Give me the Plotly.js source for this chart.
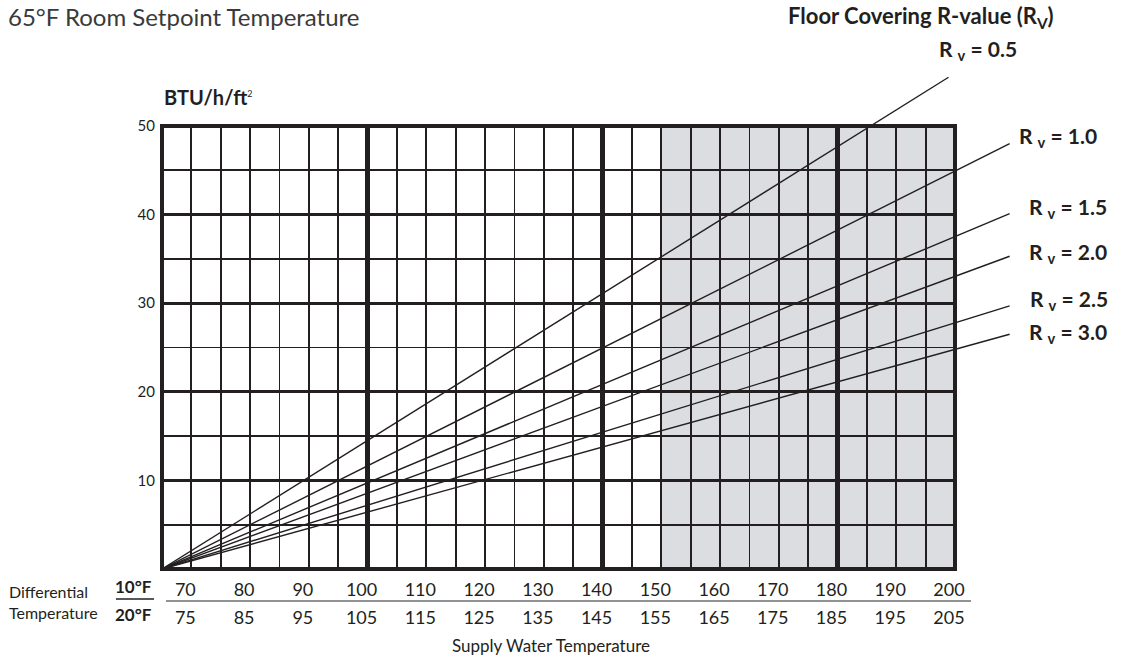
<!DOCTYPE html>
<html>
<head>
<meta charset="utf-8">
<script src="https://cdn.plot.ly/plotly-3.0.1.min.js"></script>
<style>html,body{margin:0;padding:0;background:#fff;}</style>
</head>
<body>
<div id="chart" style="width:1121px;height:657px;"></div>
<script>
// ---------------- data ----------------
const supplyTemp10 = [70, 80, 90, 100, 110, 120, 130, 140, 150, 160, 170, 180, 190, 200];
const supplyTemp20 = [75, 85, 95, 105, 115, 125, 135, 145, 155, 165, 175, 185, 195, 205];
const loadTicks = [10, 20, 30, 40, 50];
const rValues = ['0.5', '1.0', '1.5', '2.0', '2.5', '3.0'];
const lineStartX = [65, 65, 65, 65, 65, 65];
const lineStartY = [0, 0, 0, 0, 0, 0];
const lineEndX = [198.9, 209.3, 209.3, 209.3, 209.3, 209.3];
const lineEndY = [55.5, 48.0, 40.1, 35.3, 29.7, 26.5];
const xMin = 65, xMax = 200, yMin = 0, yMax = 50;
const shadeFrom = 150, shadeTo = 200;
const majorX0 = 100, majorXStep = 40, minorStep = 5;

// ---------------- layout constants (pixels) ----------------
const W = 1121, H = 657;
const PL = 162, PR = 955, PT = 126, PB = 569;
const labelPx = [[937, 50], [1017, 137], [1027, 208], [1027, 253], [1028, 300], [1027, 333]];
const INK = '#231f20';
const FONT = 'Lato, "Open Sans", sans-serif';
const px = v => v / W;
const py = v => 1 - v / H;

// extended (invisible) axes with identical scale so the lines can leave the grid
const sx = (xMax - xMin) / (PR - PL);
const sy = (yMax - yMin) / (PB - PT);
const extXMax = xMin + (W - PL) * sx;
const extYMax = yMin + PB * sy;

const traces = [];
rValues.forEach((r, i) => {
  traces.push({
    type: 'scatter', mode: 'lines',
    x: [lineStartX[i], lineEndX[i]], y: [lineStartY[i], lineEndY[i]],
    xaxis: 'x2', yaxis: 'y2',
    line: {color: INK, width: 1.4},
    name: 'Rv = ' + r, hoverinfo: 'skip', showlegend: false
  });
});
// placeholders so the grid and label axes exist
['x', 'x3', 'x4'].forEach(ax => traces.push({
  type: 'scatter', mode: 'markers', x: [null], y: [null], xaxis: ax, yaxis: 'y',
  hoverinfo: 'skip', showlegend: false
}));

const annotations = [
  {text: '<b>BTU/h/ft</b><sup><span style="font-size:9px">2</span></sup>', x: px(PL), y: py(97), xanchor: 'left', yanchor: 'middle', font: {size: 20}},
  {text: '<b>Floor Covering R-value (R<sub>V</sub>)</b>', x: px(1056), y: py(17), xanchor: 'right', yanchor: 'middle', font: {size: 22}},
  {text: 'Differential', x: px(7), y: py(591), xanchor: 'left', yanchor: 'middle', font: {size: 16}},
  {text: 'Temperature', x: px(7), y: py(612), xanchor: 'left', yanchor: 'middle', font: {size: 16}},
  {text: '<b>10°F</b>', x: px(154), y: py(586), xanchor: 'right', yanchor: 'middle', font: {size: 17}},
  {text: '<b>20°F</b>', x: px(154), y: py(614), xanchor: 'right', yanchor: 'middle', font: {size: 17}},
  {text: 'Supply Water Temperature', x: px(551), y: py(645), xanchor: 'center', yanchor: 'middle', font: {size: 17}}
];
rValues.forEach((r, i) => annotations.push({
  text: '<b>R <sub>v</sub> = ' + r + '</b>', x: px(labelPx[i][0]), y: py(labelPx[i][1]),
  xanchor: 'left', yanchor: 'middle', font: {size: 21}
}));
annotations.forEach(a => {
  a.xref = 'paper'; a.yref = 'paper'; a.showarrow = false;
  a.font = Object.assign({family: FONT, color: INK}, a.font);
});

// both label rows sit under the same grid positions (10°F row positions)
const labelAxis = (texts, standoff) => ({
  overlaying: 'x', anchor: 'y', side: 'bottom', range: [xMin, xMax],
  tickmode: 'array', tickvals: supplyTemp10, ticktext: texts.map(String),
  showgrid: false, zeroline: false, showline: false, ticks: '',
  tickfont: {family: FONT, size: 18, color: INK},
  ticklabelstandoff: standoff, ticklabelshift: -6, fixedrange: true
});

const layout = {
  width: W, height: H,
  margin: {l: 0, r: 0, t: 0, b: 0},
  paper_bgcolor: '#ffffff', plot_bgcolor: 'rgba(0,0,0,0)',
  showlegend: false,
  title: {text: '65°F Room Setpoint Temperature', x: px(8), xref: 'paper', xanchor: 'left',
          y: py(18), yref: 'paper', yanchor: 'middle',
          font: {family: FONT, size: 24, color: '#3a3a3a'}},
  xaxis: {
    domain: [px(PL), px(PR)], range: [xMin, xMax], anchor: 'y',
    tickmode: 'linear', tick0: majorX0, dtick: majorXStep,
    showgrid: true, gridcolor: INK, gridwidth: 4.5,
    showticklabels: false, ticks: '', zeroline: false, showline: false, fixedrange: true,
    minor: {tickmode: 'linear', tick0: xMin, dtick: minorStep, showgrid: true, gridcolor: INK, gridwidth: 1.8, ticks: ''}
  },
  yaxis: {
    domain: [1 - PB / H, 1 - PT / H], range: [yMin, yMax], anchor: 'x',
    tickmode: 'array', tickvals: loadTicks, ticktext: loadTicks.map(String),
    showgrid: true, gridcolor: INK, gridwidth: 3,
    zeroline: false, showline: false, ticks: '', fixedrange: true,
    tickfont: {family: FONT, size: 15, color: INK}, ticklabelstandoff: 6,
    minor: {tickmode: 'linear', tick0: 0, dtick: minorStep, showgrid: true, gridcolor: INK, gridwidth: 1.8, ticks: ''}
  },
  xaxis2: {domain: [px(PL), 1], range: [xMin, extXMax], anchor: 'y2', visible: false, fixedrange: true},
  yaxis2: {domain: [1 - PB / H, 1], range: [yMin, extYMax], anchor: 'x2', visible: false, fixedrange: true},
  xaxis3: labelAxis(supplyTemp10, 8),
  xaxis4: labelAxis(supplyTemp20, 36),
  shapes: [
    {type: 'rect', xref: 'x', yref: 'y', x0: shadeFrom, x1: shadeTo, y0: yMin, y1: yMax,
     fillcolor: '#dcdde0', line: {width: 0}, layer: 'below'},
    {type: 'rect', xref: 'paper', yref: 'paper', x0: px(PL), x1: px(PR), y0: py(PB), y1: py(PT),
     line: {color: INK, width: 4}, fillcolor: 'rgba(0,0,0,0)', layer: 'above'},
    {type: 'line', xref: 'paper', yref: 'paper', x0: px(166), x1: px(971), y0: py(601), y1: py(601),
     line: {color: '#6d6e71', width: 1.5}},
    {type: 'line', xref: 'paper', yref: 'paper', x0: px(116), x1: px(154), y0: py(599), y1: py(599),
     line: {color: INK, width: 1.3}}
  ],
  annotations: annotations
};

Plotly.newPlot('chart', traces, layout, {displayModeBar: false, staticPlot: true});
</script>
</body>
</html>
